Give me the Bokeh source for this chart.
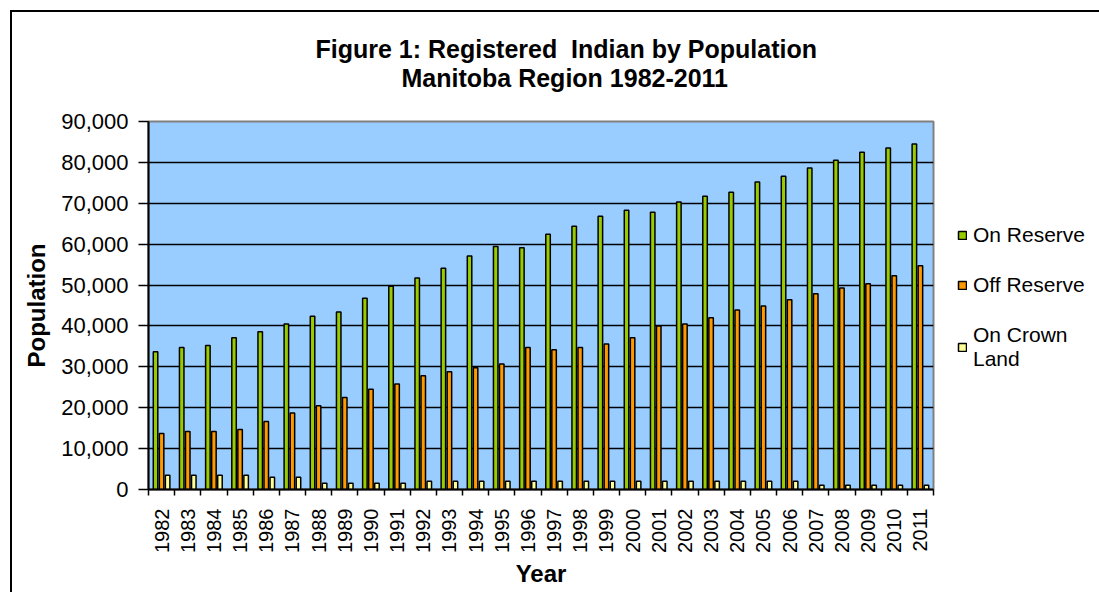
import math
from bokeh.plotting import figure
from bokeh.layouts import row
from bokeh.models import (Range1d, FixedTicker, NumeralTickFormatter, Legend,
                          LegendItem, Title, ColumnDataSource)
from bokeh.transform import dodge
from bokeh.embed import file_html
from bokeh.resources import INLINE

years = ["1982", "1983", "1984", "1985", "1986", "1987", "1988", "1989", "1990",
         "1991", "1992", "1993", "1994", "1995", "1996", "1997", "1998", "1999",
         "2000", "2001", "2002", "2003", "2004", "2005", "2006", "2007", "2008",
         "2009", "2010", "2011"]
on_reserve = [33700, 34700, 35200, 37100, 38600, 40500, 42400, 43400, 46800,
              49700, 51700, 54100, 57100, 59400, 59100, 62400, 64400, 66800,
              68300, 67800, 70300, 71700, 72700, 75200, 76600, 78600, 80500,
              82500, 83500, 84500]
off_reserve = [13700, 14200, 14200, 14700, 16600, 18700, 20500, 22500, 24500,
               25800, 27800, 28800, 29800, 30700, 34700, 34200, 34700, 35600,
               37100, 40000, 40500, 42000, 43900, 44900, 46400, 47900, 49300,
               50300, 52300, 54700]
crown_land = [3500, 3500, 3500, 3500, 3000, 3000, 1550, 1550, 1550, 1550,
              2000, 2000, 2000, 2000, 2000, 2000, 2000, 2000, 2000, 2000,
              2000, 2000, 2000, 2000, 2000, 1050, 1050, 1050, 1050, 1050]
series_names = ["On Reserve", "Off Reserve", "On Crown\nLand"]
series_colors = ["#99CC00", "#FF9900", "#FFFF99"]
title_lines = ["Figure 1: Registered\u00a0 Indian by Population", "Manitoba Region 1982-2011"]

# one slot per year, bars centred in each slot
slot = [i + 0.5 for i in range(len(years))]
src = ColumnDataSource(dict(x=slot, on=on_reserve, off=off_reserve, crown=crown_land))
cols = ["on", "off", "crown"]

bar_w = 0.172
step = 0.231
offsets = [-step, 0.0, step]

p = figure(width=924, height=580, output_backend="svg", toolbar_location=None,
           x_range=Range1d(0, len(years)), y_range=Range1d(0, 90000),
           min_border_left=136, min_border_right=3, min_border_top=109,
           min_border_bottom=103, background_fill_color="#99CCFF",
           border_fill_color="white", outline_line_color="#808080",
           outline_line_width=2)
p.title = None

for col, off, color in zip(cols, offsets, series_colors):
    p.vbar(x=dodge("x", off, range=p.x_range), top=col, width=bar_w, bottom=0,
           source=src, fill_color=color, line_color="black", line_width=1.5)

# grid
p.xgrid.visible = False
p.ygrid.ticker = FixedTicker(ticks=[10000, 20000, 30000, 40000, 50000, 60000, 70000, 80000])
p.ygrid.grid_line_color = "black"
p.ygrid.grid_line_width = 1.3

# y axis
ya = p.yaxis[0]
ya.ticker = FixedTicker(ticks=[0, 10000, 20000, 30000, 40000, 50000, 60000, 70000, 80000, 90000])
ya.formatter = NumeralTickFormatter(format="0,0")
ya.axis_line_color = "black"
ya.axis_line_width = 2
ya.major_tick_line_color = "black"
ya.major_tick_line_width = 1.5
ya.major_tick_out = 10
ya.major_tick_in = 0
ya.minor_tick_line_color = None
ya.major_label_standoff = 10
ya.major_label_text_font = "Liberation Sans"
ya.major_label_text_font_size = "22px"
ya.major_label_text_color = "black"
ya.axis_label = "Population"
ya.axis_label_text_font = "Liberation Sans"
ya.axis_label_text_font_style = "bold"
ya.axis_label_text_font_size = "24px"
ya.axis_label_text_color = "black"
ya.axis_label_standoff = 8

# x axis: labels at slot centres, tick marks at slot boundaries
xa = p.xaxis[0]
xa.ticker = FixedTicker(ticks=slot, minor_ticks=list(range(len(years) + 1)))
xa.major_label_overrides = {s: y for s, y in zip(slot, years)}
xa.major_label_orientation = math.pi / 2
xa.major_tick_out = 0
xa.major_tick_in = 0
xa.minor_tick_out = 6
xa.minor_tick_in = 0
xa.minor_tick_line_color = "black"
xa.minor_tick_line_width = 1.5
xa.axis_line_color = "black"
xa.axis_line_width = 2
xa.major_label_standoff = 13
xa.major_label_text_font = "Liberation Sans"
xa.major_label_text_font_size = "20px"
xa.major_label_text_color = "black"
xa.axis_label = "Year"
xa.axis_label_text_font = "Liberation Sans"
xa.axis_label_text_font_style = "bold"
xa.axis_label_text_font_size = "24px"
xa.axis_label_text_color = "black"
xa.axis_label_standoff = 4

# two-line title, stacked upward from the frame
for txt, off, standoff in [(title_lines[1], 253, 60), (title_lines[0], 167, -62)]:
    t = Title(text=txt, align="left", offset=off, text_font="Liberation Sans",
              text_font_style="bold", text_font_size="25px", text_color="black",
              standoff=standoff)
    p.add_layout(t, "above")

# legend panel to the right of the chart; its bar renderers stay muted
# (fully transparent) and only supply the legend swatches
q = figure(width=163, height=580, output_backend="svg", toolbar_location=None,
           x_range=Range1d(0, len(years)), y_range=Range1d(0, 90000),
           x_axis_location=None, y_axis_location=None,
           min_border_left=0, min_border_right=0, min_border_top=109,
           min_border_bottom=103, outline_line_color=None,
           background_fill_color="white", border_fill_color="white")
q.grid.visible = False
keys = []
for col, off, color in zip(cols, offsets, series_colors):
    r = q.vbar(x=dodge("x", off, range=q.x_range), top=col, width=bar_w, bottom=0,
               source=src, fill_color=color, line_color="black", line_width=1.5,
               muted_alpha=0)
    r.muted = True
    keys.append(r)

legend = Legend(items=[LegendItem(label=n, renderers=[r]) for n, r in zip(series_names, keys)],
                location=(21, 118), orientation="vertical", padding=0,
                spacing=26, glyph_width=10, glyph_height=10, label_height=24,
                label_text_font="Liberation Sans", label_text_font_size="21px",
                label_text_color="black", label_standoff=6,
                border_line_color=None, background_fill_alpha=0)
q.add_layout(legend, "center")

layout = row(p, q, styles={"margin-left": "10px", "margin-top": "10px",
                           "border-left": "2px solid black", "border-top": "2px solid black"})

open("out.html", "w").write(file_html(layout, INLINE))
